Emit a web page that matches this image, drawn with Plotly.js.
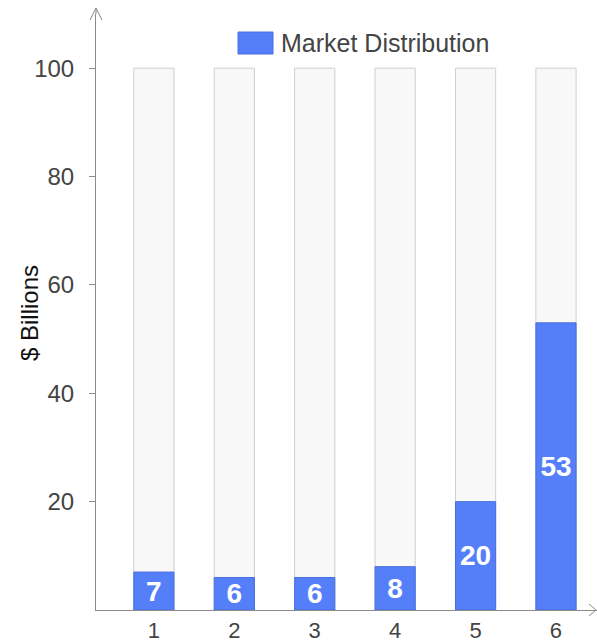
<!DOCTYPE html>
<html>
<head>
<meta charset="utf-8">
<script src="https://cdn.plot.ly/plotly-3.0.1.min.js"></script>
<style>html,body{margin:0;padding:0;background:#fff;}#chart{width:597px;height:643px;}</style>
</head>
<body>
<div id="chart"></div>
<script>
const categories = [1, 2, 3, 4, 5, 6];
const values = [7, 6, 6, 8, 20, 53];
const totals = [100, 100, 100, 100, 100, 100];
const yTickVals = [20, 40, 60, 80, 100];
const seriesName = "Market Distribution";
const yTitle = "$ Billions";

const FONT = "Arial, 'Liberation Sans', sans-serif";
const W = 597, H = 643;
const L = 96, R = 0, T = 14, B = 33;
const pw = W - L - R, ph = H - T - B;
const px = x => (x - L) / pw;
const py = y => (H - B - y) / ph;

const traces = [
  {
    type: 'bar', x: categories, y: totals, width: 0.5,
    marker: {color: '#f8f8f8', line: {color: '#cfcfcf', width: 1}},
    showlegend: false, hoverinfo: 'skip'
  },
  {
    type: 'bar', x: categories, y: values, width: 0.5, name: seriesName,
    text: values.map(String), textposition: 'inside', insidetextanchor: 'middle',
    constraintext: 'none', textangle: 0,
    textfont: {color: '#ffffff', size: 28, family: FONT, weight: 'bold'},
    marker: {color: '#557ff8', line: {color: '#4a6fe0', width: 1}},
    showlegend: false, hoverinfo: 'skip'
  }
];

const axisColor = '#8a8a8a';
const shapes = [
  {type: 'line', xref: 'paper', yref: 'paper', x0: 0, x1: 0, y0: 1, y1: py(8), line: {color: axisColor, width: 1}},
  {type: 'path', xref: 'paper', yref: 'paper',
   path: `M ${px(90)} ${py(20)} L ${px(96)} ${py(8)} L ${px(102)} ${py(20)}`, line: {color: axisColor, width: 1}},
  {type: 'path', xref: 'paper', yref: 'paper',
   path: `M ${px(589)} ${py(604)} L ${px(596)} ${py(610)} L ${px(589)} ${py(616)}`, line: {color: axisColor, width: 1}},
  {type: 'rect', xref: 'paper', yref: 'paper', x0: px(238), x1: px(273), y0: py(54), y1: py(32),
   fillcolor: '#557ff8', line: {color: '#4a6fe0', width: 1}}
];

const annotations = [
  {xref: 'paper', yref: 'paper', x: px(279), y: py(43), xanchor: 'left', yanchor: 'middle',
   text: seriesName, showarrow: false, font: {family: FONT, size: 25, color: '#444'}},
  {xref: 'paper', yref: 'paper', x: px(29), y: py(313), xanchor: 'center', yanchor: 'middle',
   text: yTitle, textangle: -90, showarrow: false, font: {family: FONT, size: 24, color: '#111'}}
];

const layout = {
  width: W, height: H,
  margin: {l: L, r: R, t: T, b: B, pad: 0},
  paper_bgcolor: '#ffffff', plot_bgcolor: '#ffffff',
  barmode: 'overlay',
  showlegend: false,
  font: {family: FONT, size: 24, color: '#444'},
  xaxis: {
    range: [0.28, 6.51], tickvals: categories, ticktext: categories.map(String),
    showgrid: false, zeroline: false, showline: true, linecolor: axisColor, linewidth: 1,
    ticks: '', tickfont: {size: 22, color: '#444', family: FONT}, ticklabelstandoff: 1, fixedrange: true
  },
  yaxis: {
    range: [0, 110], tickvals: yTickVals, ticktext: yTickVals.map(String),
    showgrid: false, zeroline: false, showline: true, linecolor: axisColor, linewidth: 1,
    ticks: 'outside', ticklen: 6, tickcolor: axisColor, tickwidth: 1, ticklabelstandoff: 10,
    tickfont: {size: 24, color: '#444', family: FONT}, fixedrange: true
  },
  yaxis2: {
    overlaying: 'y', anchor: 'x', side: 'left', range: [0, 110], tickvals: yTickVals,
    showticklabels: false, showgrid: false, zeroline: false, showline: false,
    ticks: 'inside', ticklen: 6, tickcolor: axisColor, tickwidth: 1, fixedrange: true
  },
  shapes: shapes,
  annotations: annotations
};

Plotly.newPlot('chart', traces, layout, {displayModeBar: false, staticPlot: true});
</script>
</body>
</html>
